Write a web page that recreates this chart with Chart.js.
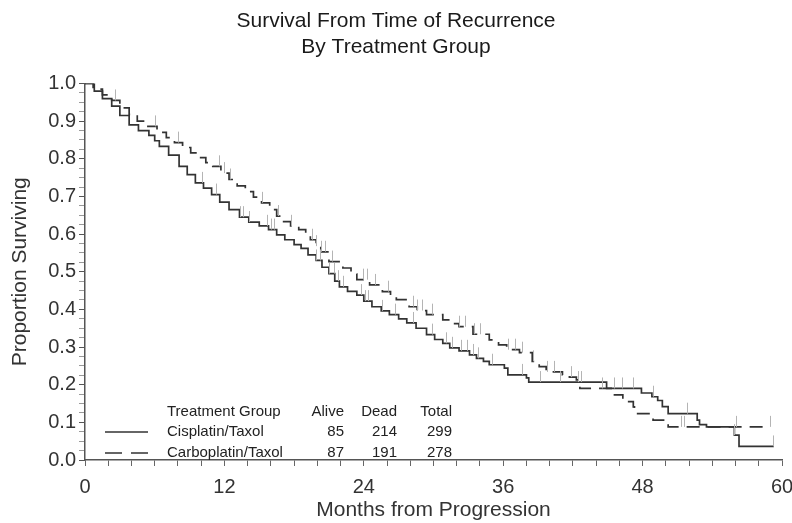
<!DOCTYPE html>
<html>
<head>
<meta charset="utf-8">
<script src="https://cdn.jsdelivr.net/npm/chart.js@4.4.0/dist/chart.umd.min.js"></script>
<style>
html, body { margin: 0; padding: 0; background: #fff; }
#wrap { width: 792px; height: 523px; }
</style>
</head>
<body>
<div id="wrap"><canvas id="km"></canvas></div>
<script>
// table values
const groups = ["Cisplatin/Taxol", "Carboplatin/Taxol"];
const alive = [85, 87];
const dead = [214, 191];
const total = [299, 278];

// Kaplan-Meier steps (month of drop, new proportion)
const cisMonths = [0, 0.8, 1.5, 2.3, 3.0, 3.8, 4.6, 5.5, 6.0, 6.4, 7.2, 8.1, 8.8, 9.5, 10.2, 10.9, 11.6, 12.4, 13.3, 14.1, 15.0, 15.8, 16.5, 17.2, 18.0, 18.6, 19.2, 19.9, 20.4, 21.0, 21.5, 21.9, 22.6, 23.4, 24.0, 24.7, 25.5, 26.2, 27.0, 27.7, 28.5, 29.4, 30.1, 30.8, 31.4, 32.2, 33.1, 33.7, 34.3, 34.8, 36.1, 36.4, 38.0, 38.2, 44.9, 47.9, 48.8, 49.3, 49.7, 50.2, 52.7, 52.9, 53.5, 55.9, 56.3, 59.3];
const cisSurv = [1.0, 0.98, 0.96, 0.94, 0.915, 0.89, 0.875, 0.862, 0.848, 0.833, 0.81, 0.78, 0.758, 0.736, 0.722, 0.705, 0.685, 0.665, 0.645, 0.632, 0.622, 0.612, 0.598, 0.585, 0.572, 0.562, 0.545, 0.53, 0.512, 0.495, 0.475, 0.46, 0.448, 0.438, 0.422, 0.407, 0.396, 0.386, 0.375, 0.364, 0.35, 0.333, 0.32, 0.31, 0.298, 0.29, 0.279, 0.27, 0.262, 0.253, 0.244, 0.226, 0.218, 0.207, 0.19, 0.178, 0.168, 0.158, 0.142, 0.123, 0.106, 0.094, 0.088, 0.066, 0.036, 0.036];

const carMonths = [0, 0.7, 1.5, 2.3, 3.0, 3.8, 4.5, 5.2, 6.2, 7.0, 7.7, 8.4, 9.1, 9.8, 10.4, 11.0, 11.7, 12.4, 13.1, 13.8, 14.5, 15.2, 15.9, 16.5, 17.1, 17.7, 18.4, 19.0, 19.4, 19.9, 20.3, 21.0, 22.2, 22.9, 23.4, 24.5, 25.6, 26.3, 26.8, 27.9, 28.6, 29.4, 30.8, 31.5, 32.2, 33.4, 34.8, 35.6, 36.3, 37.4, 38.5, 39.1, 39.7, 41.1, 41.7, 42.3, 42.6, 45.4, 46.3, 47.2, 47.3, 48.9, 50.2, 59.0];
const carSurv = [1.0, 0.985, 0.97, 0.955, 0.935, 0.918, 0.9, 0.886, 0.87, 0.856, 0.843, 0.83, 0.816, 0.803, 0.79, 0.78, 0.762, 0.745, 0.728, 0.713, 0.698, 0.683, 0.665, 0.648, 0.633, 0.622, 0.612, 0.598, 0.585, 0.568, 0.553, 0.527, 0.51, 0.494, 0.479, 0.465, 0.447, 0.436, 0.426, 0.407, 0.397, 0.386, 0.372, 0.362, 0.354, 0.334, 0.319, 0.306, 0.293, 0.285, 0.262, 0.248, 0.234, 0.226, 0.22, 0.213, 0.19, 0.173, 0.155, 0.141, 0.123, 0.106, 0.088, 0.088];

// censored observations (months)
const cisCensor = [10.1, 11.3, 13.3, 13.6, 14.1, 15.7, 16.0, 16.3, 19.9, 20.2, 21.0, 21.4, 21.8, 22.2, 23.8, 24.1, 24.4, 25.6, 26.7, 28.2, 29.9, 31.1, 31.6, 32.4, 32.9, 33.4, 33.8, 35.0, 37.6, 39.2, 40.9, 42.4, 42.7, 45.5, 46.2, 47.2, 48.9, 51.8, 55.9, 59.2];
const carCensor = [2.6, 6.0, 8.0, 11.5, 12.0, 12.5, 15.2, 16.6, 17.7, 19.5, 19.9, 20.3, 20.7, 21.3, 23.9, 24.3, 25.0, 26.1, 28.2, 28.6, 29.0, 29.9, 32.2, 32.7, 33.5, 34.0, 36.4, 37.0, 37.6, 38.6, 39.8, 40.4, 41.8, 44.5, 51.3, 51.6, 56.0, 59.0];

const xTicks = [0, 12, 24, 36, 48, 60];

const FONT = "'Liberation Sans', Arial, sans-serif";

function points(months, surv) {
	return months.map((m, i) => ({ x: m, y: surv[i] }));
}

function survAt(months, surv, t) {
	let s = surv[0];
	for (let i = 0; i < months.length; i++) {
		if (months[i] <= t) s = surv[i];
	}
	return s;
}

// little upward ticks for censored patients
const censorPlugin = {
	id: "censor",
	afterDatasetsDraw(chart) {
		const ctx = chart.ctx;
		const xs = chart.scales.x;
		const ys = chart.scales.y;
		ctx.save();
		ctx.strokeStyle = "#b4b4b4";
		ctx.lineWidth = 1;
		const sets = [[cisMonths, cisSurv, cisCensor], [carMonths, carSurv, carCensor]];
		sets.forEach(([m, s, c]) => {
			c.forEach((t) => {
				const px = Math.round(xs.getPixelForValue(t)) + 0.5;
				const py = ys.getPixelForValue(survAt(m, s, t));
				ctx.beginPath();
				ctx.moveTo(px, py);
				ctx.lineTo(px, py - 11);
				ctx.stroke();
			});
		});
		ctx.restore();
	},
};

// legend table inside the plot
const tablePlugin = {
	id: "table",
	afterDraw(chart) {
		const ctx = chart.ctx;
		ctx.save();
		ctx.font = "15px " + FONT;
		ctx.fillStyle = "#222";
		ctx.textBaseline = "middle";
		ctx.textAlign = "left";
		ctx.fillText("Treatment Group", 167, 412);
		ctx.textAlign = "right";
		ctx.fillText("Alive", 344, 412);
		ctx.fillText("Dead", 397, 412);
		ctx.fillText("Total", 452, 412);
		const rowY = [432, 453];
		groups.forEach((g, i) => {
			const y = rowY[i];
			ctx.strokeStyle = "#333";
			ctx.lineWidth = 1.5;
			ctx.setLineDash(i === 0 ? [] : [17, 9]);
			ctx.beginPath();
			ctx.moveTo(105, y);
			ctx.lineTo(148, y);
			ctx.stroke();
			ctx.setLineDash([]);
			ctx.textAlign = "left";
			ctx.fillText(g, 167, y);
			ctx.textAlign = "right";
			ctx.fillText(String(alive[i]), 344, y);
			ctx.fillText(String(dead[i]), 397, y);
			ctx.fillText(String(total[i]), 452, y);
		});
		ctx.restore();
	},
};

function isTenth(v) {
	return Math.abs(v * 10 - Math.round(v * 10)) < 1e-6;
}

const km = new Chart(document.getElementById("km"), {
	type: "line",
	data: {
		datasets: [
			{
				label: groups[0],
				data: points(cisMonths, cisSurv),
				stepped: true,
				borderColor: "#333",
				borderWidth: 1.7,
				pointRadius: 0,
				fill: false,
			},
			{
				label: groups[1],
				data: points(carMonths, carSurv),
				stepped: true,
				borderColor: "#333",
				borderWidth: 1.7,
				borderDash: [13, 8],
				pointRadius: 0,
				fill: false,
			},
		],
	},
	options: {
		responsive: true,
		maintainAspectRatio: false,
		animation: false,
		layout: { padding: { top: 6, right: 0, bottom: 0, left: 0 } },
		plugins: {
			legend: { display: false },
			tooltip: { enabled: false },
			title: {
				display: true,
				text: ["Survival From Time of Recurrence", "By Treatment Group"],
				color: "#1a1a1a",
				font: { family: FONT, size: 21, weight: "normal", lineHeight: 1.25 },
				padding: { top: 2, bottom: 23 },
			},
		},
		scales: {
			x: {
				type: "linear",
				min: 0,
				max: 60,
				afterFit(scale) {
					scale.height = 63;
					scale.paddingRight = 10;
				},
				border: { display: true, color: "#555", width: 1.5 },
				grid: { drawOnChartArea: false, drawTicks: true, tickLength: 6, tickColor: "#666" },
				ticks: {
					stepSize: 2,
					autoSkip: false,
					maxRotation: 0,
					padding: 9,
					color: "#333",
					font: { family: FONT, size: 20 },
					callback: (v) => (xTicks.includes(v) ? String(v) : ""),
				},
				title: {
					display: true,
					text: "Months from Progression",
					color: "#333",
					font: { family: FONT, size: 21, lineHeight: 1.2 },
					padding: { top: 0, bottom: 0 },
				},
			},
			y: {
				min: 0,
				max: 1,
				afterFit(scale) {
					scale.width = 85;
				},
				border: { display: true, color: "#555", width: 1.5 },
				grid: {
					drawOnChartArea: false,
					drawTicks: true,
					tickLength: 6,
					tickColor: (c) => (c.tick && isTenth(c.tick.value) ? "#555" : "#999"),
				},
				ticks: {
					stepSize: 0.025,
					autoSkip: false,
					padding: 3,
					color: "#333",
					font: { family: FONT, size: 20 },
					callback: (v) => (isTenth(v) ? v.toFixed(1) : ""),
				},
				title: {
					display: true,
					text: "Proportion Surviving",
					color: "#333",
					font: { family: FONT, size: 21, lineHeight: 1.2 },
					padding: { top: 8, bottom: 0 },
				},
			},
		},
	},
	plugins: [censorPlugin, tablePlugin],
});
</script>
</body>
</html>
